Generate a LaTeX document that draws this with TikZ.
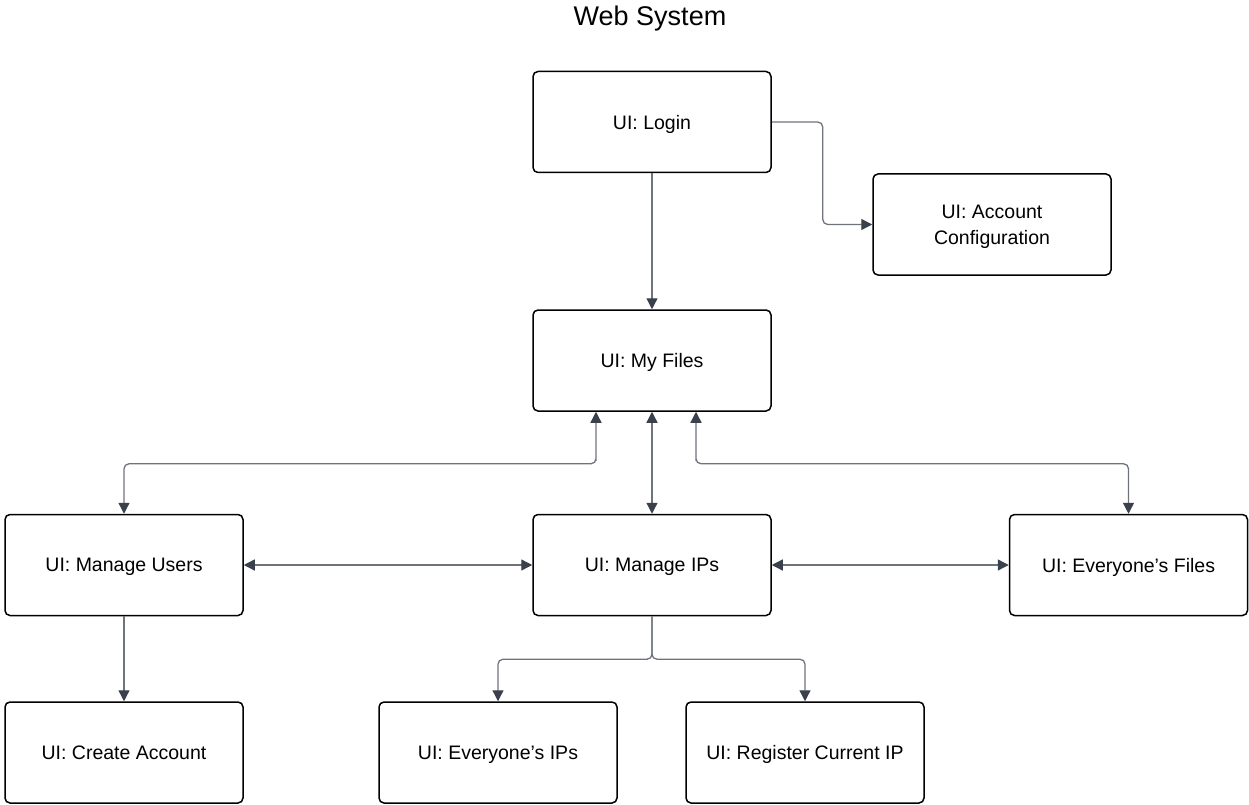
\documentclass[tikz,border=0pt]{standalone}
\usepackage{fontspec}
\setmainfont{Liberation Sans}
\usetikzlibrary{arrows.meta}
\definecolor{edge}{HTML}{6E737C}
\definecolor{tip}{HTML}{3A414C}
\begin{document}
\begin{tikzpicture}[x=1pt,y=-1pt,
  screen/.style={draw=black,line width=1.5pt,rounded corners=5pt,fill=white,
    minimum width=238pt,minimum height=101pt,align=center,
    font=\fontsize{19.5}{26}\selectfont,inner sep=2pt,text depth=0pt},
  link/.style={draw=edge,line width=1.3pt,rounded corners=5pt,
    -{Triangle[length=11pt,width=11pt,fill=tip,color=tip]}},
  biglink/.style={link,{Triangle[length=11pt,width=11pt,fill=tip,color=tip]}-{Triangle[length=11pt,width=11pt,fill=tip,color=tip]}}]
\useasboundingbox (0,0) rectangle (1249,805);

\node[font=\fontsize{27}{32}\selectfont] (title) at (650,19) {Web System};

% screens
\node[screen] (login) at (652,122)   {UI: Login};
\node[screen] (acct)  at (992,224.5) {UI: Account\\Configuration};
\node[screen] (files) at (652,360.5) {UI: My Files};
\node[screen] (users) at (124,565)   {UI: Manage Users};
\node[screen] (ips)   at (652,565)   {UI: Manage IPs};
\node[screen] (all)   at (1128.5,565){UI: Everyone’s Files};
\node[screen] (create) at (124,752.5) {UI: Create Account};
\node[screen] (allips) at (498,752.5) {UI: Everyone’s IPs};
\node[screen] (reg)    at (805,752.5) {UI: Register Current IP};

% routing points
\coordinate (fl) at ([xshift=-56pt]files.south);
\coordinate (fr) at ([xshift=44pt]files.south);
\coordinate (split) at ([yshift=-43pt]ips.south);

% connectors
\draw[link] (login.east) -- ++(51,0) |- (acct.west);
\draw[link] (login.south) -- (files.north);
\draw[biglink] (fl) |- ++(0,52) -| (users.north);
\draw[biglink] (files.south) -- (ips.north);
\draw[biglink] (fr) |- ++(0,52) -| (all.north);
\draw[biglink] (users.east) -- (ips.west);
\draw[biglink] (ips.east) -- (all.west);
\draw[link] (users.south) -- (create.north);
\draw[link] (ips.south) -- (split) -| (allips.north);
\draw[link] (ips.south) -- (split) -| (reg.north);
\end{tikzpicture}
\end{document}
